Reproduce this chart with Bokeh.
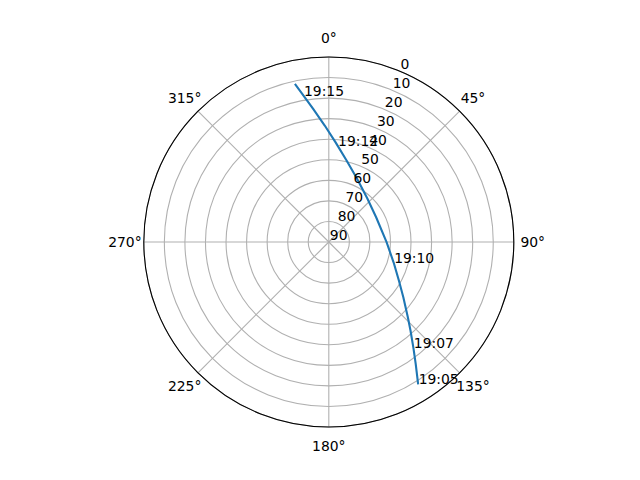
import numpy as np
from bokeh.plotting import figure
from bokeh.models import Range1d
from bokeh.embed import file_html
from bokeh.resources import INLINE
from bokeh.core.properties import value

# ---- data (azimuth in degrees clockwise from north, elevation in degrees) ----
azimuth = [147.9, 144.5, 141.3, 137.3, 133.6, 126.5, 118.8, 107.6, 90.2, 62.1,
           41.0, 24.1, 12.3, 5.2, 3.8, 358.0, 353.3, 350.2, 347.9]
elevation = [8.2, 17.2, 24.2, 31.4, 36.9, 44.9, 51.1, 56.9, 61.9, 64.0,
             61.6, 56.3, 49.4, 42.9, 41.3, 33.3, 24.8, 17.7, 11.3]

label_times = ["19:05", "19:07", "19:10", "19:12", "19:15"]
label_az = [147.9, 141.3, 107.6, 5.2, 350.2]
label_el = [8.2, 24.2, 56.9, 42.9, 17.7]

r_ticks = [0, 10, 20, 30, 40, 50, 60, 70, 80, 90]
r_tick_labels = ["0", "10", "20", "30", "40", "50", "60", "70", "80", "90"]
theta_ticks = [0, 45, 90, 135, 180, 225, 270, 315]
theta_tick_labels = ["0°", "45°", "90°", "135°", "180°", "225°", "270°", "315°"]
r_label_angle = 22.5
theta_label_radius = 99.2


def to_xy(az, el):
    az = np.radians(np.asarray(az, dtype=float))
    r = 90.0 - np.asarray(el, dtype=float)
    return r * np.sin(az), r * np.cos(az)


FONT = value("DejaVu Sans")
FS = "13.9px"

p = figure(width=624, height=464, output_backend="svg", toolbar_location=None,
           x_range=Range1d(-159.71, 143.85), y_range=Range1d(-108.24, 117.49),
           min_border=0, outline_line_color=None)
p.xaxis.visible = False
p.yaxis.visible = False
p.xgrid.visible = False
p.ygrid.visible = False
p.background_fill_color = "white"
p.border_fill_color = "white"

# grid circles
grid_r = [90 - v for v in r_ticks if v < 90]
p.circle(x=[0] * len(grid_r), y=[0] * len(grid_r), radius=grid_r,
         fill_color=None, line_color="#b0b0b0", line_width=1.1)

# radial grid lines
tx, ty = to_xy(theta_ticks, [0] * len(theta_ticks))
p.segment(x0=[0] * len(theta_ticks), y0=[0] * len(theta_ticks), x1=tx, y1=ty,
          line_color="#b0b0b0", line_width=1.1)

# pass track
lx, ly = to_xy(azimuth, elevation)
p.line(lx, ly, line_color="#1f77b4", line_width=2.1, line_join="round")

# outer spine
p.circle(x=[0], y=[0], radius=[90], fill_color=None, line_color="black", line_width=1.1)

# time labels
tlx, tly = to_xy(label_az, label_el)
p.text(x=tlx, y=tly, text=label_times, text_font=FONT, text_font_size=FS,
       text_align="left", text_baseline="alphabetic", x_offset=0.5, y_offset=-5,
       text_color="black")

# radial tick labels
rx, ry = to_xy([r_label_angle] * len(r_ticks), r_ticks)
p.text(x=rx, y=ry, text=r_tick_labels, text_font=FONT, text_font_size=FS,
       text_align="left", text_baseline="alphabetic", x_offset=1.0, y_offset=-7.5,
       text_color="black")

# theta tick labels
ang = np.radians(theta_ticks)
thx = theta_label_radius * np.sin(ang)
thy = theta_label_radius * np.cos(ang)
p.text(x=thx, y=thy, text=theta_tick_labels, text_font=FONT, text_font_size=FS,
       text_align="center", text_baseline="middle", text_color="black")

open("out.html", "w").write(file_html(p, INLINE))
